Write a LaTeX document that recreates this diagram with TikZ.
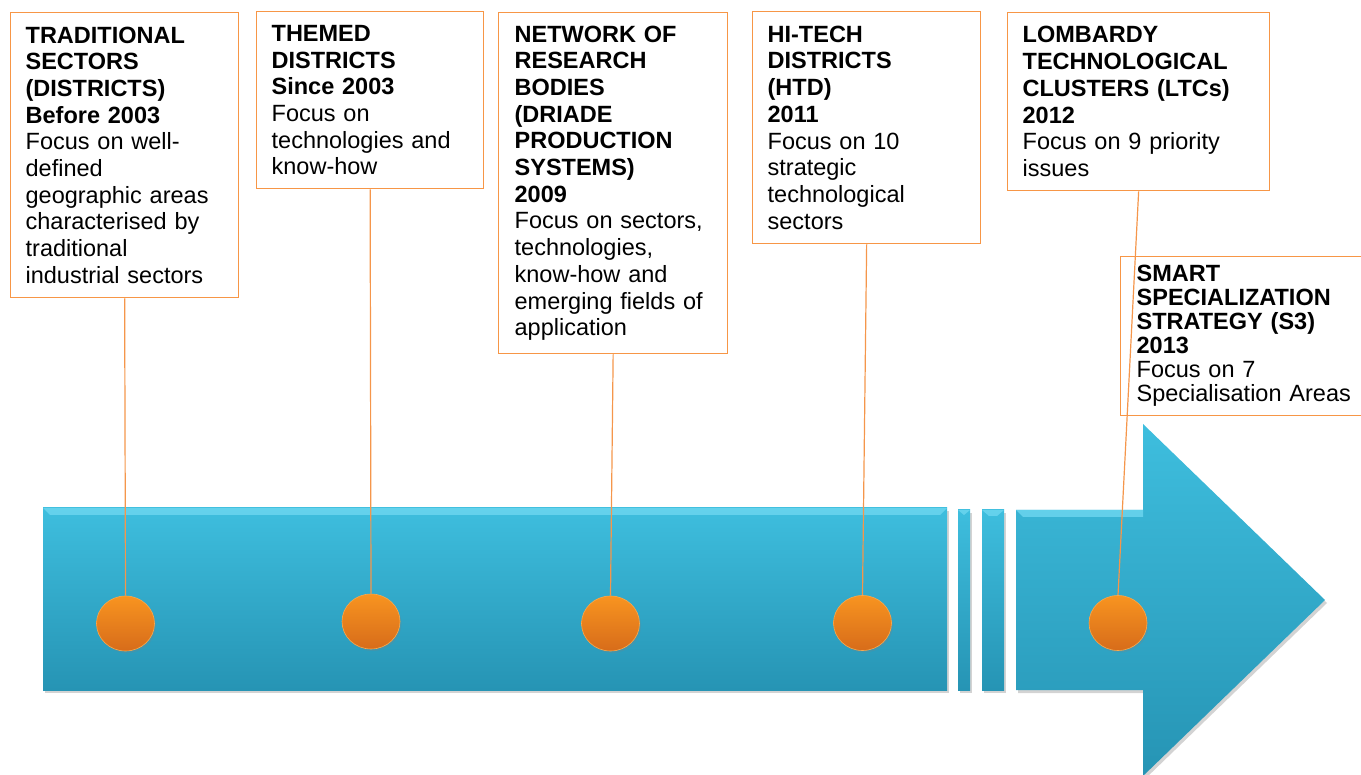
\documentclass[tikz,border=0pt]{standalone}
\usepackage{fontspec}
\setmainfont{Liberation Sans}
\usetikzlibrary{shapes.geometric,shadows}
\definecolor{boxorange}{RGB}{247,150,70}
\definecolor{lineorange}{RGB}{245,150,75}
\definecolor{bluetop}{RGB}{62,190,222}
\definecolor{bluebot}{RGB}{38,148,180}
\definecolor{bluebevel}{RGB}{110,215,240}
\definecolor{dottop}{RGB}{248,148,32}
\definecolor{dotbot}{RGB}{215,108,26}
\tikzset{
  box/.style={draw=boxorange, line width=1.3pt, fill=white, anchor=north west,
    align=left, inner xsep=15pt, inner ysep=0pt,
    font=\fontsize{23.5}{26.7}\selectfont},
  bluebar/.style={top color=bluetop, bottom color=bluebot, draw=none,
    drop shadow={opacity=0.35, shadow xshift=2pt, shadow yshift=-3pt}},
  bevel/.style={fill=bluebevel, draw=none, opacity=0.8},
  dot/.style={ellipse, minimum width=58pt, minimum height=55pt, inner sep=0pt,
    top color=dottop, bottom color=dotbot, draw=dottop!80!white, line width=0.6pt,
    drop shadow={opacity=0.25, shadow xshift=1.5pt, shadow yshift=-2pt}},
  link/.style={draw=lineorange, line width=1.2pt}
}
\begin{document}
\begin{tikzpicture}[x=1pt, y=-1pt]
\useasboundingbox (0,0) rectangle (1361,775);

% boxes
\node[box, text width=198pt, minimum height=285pt] (b1) at (10,12)
 {\bfseries TRADITIONAL\\SECTORS\\(DISTRICTS)\\Before 2003\\\mdseries Focus on well-\\defined\\geographic areas\\characterised by\\traditional\\industrial sectors};
\node[box, text width=197pt, minimum height=177pt] (b2) at (256,11)
 {\bfseries THEMED\\DISTRICTS\\Since 2003\\\mdseries Focus on\\technologies and\\know-how};
\node[box, inner xsep=16pt, text width=197pt, minimum height=341pt] (b3) at (498,12)
 {\bfseries NETWORK OF\\RESEARCH\\BODIES\\(DRIADE\\PRODUCTION\\SYSTEMS)\\2009\\\mdseries Focus on sectors,\\technologies,\\know-how and\\emerging fields of\\application};
\node[box, text width=198pt, minimum height=232pt] (b4) at (752,11)
 {\bfseries HI-TECH\\DISTRICTS\\(HTD)\\2011\\\mdseries Focus on 10\\strategic\\technological\\sectors};
\node[box, text width=232pt, minimum height=178pt] (b5) at (1007,12)
 {\bfseries LOMBARDY\\TECHNOLOGICAL\\CLUSTERS (LTCs)\\2012\\\mdseries Focus on 9 priority\\issues};
\node[box, inner xsep=16pt, text width=228pt, minimum height=159pt,
  font=\fontsize{23.5}{24}\selectfont] (b6) at (1120,256)
 {\bfseries SMART\\SPECIALIZATION\\STRATEGY (S3)\\2013\\\mdseries Focus on 7\\Specialisation Areas};

% timeline arrow
\path[bluebar] (43,508) rectangle (947,690);
\path[bevel] (43,508) -- (947,508) -- (940,515) -- (50,515) -- cycle;
\path[bluebar] (958,510) rectangle (970,690);
\path[bevel] (958,510) -- (970,510) -- (964,515) -- cycle;
\path[bluebar] (982,510) rectangle (1004,690);
\path[bevel] (982,510) -- (1004,510) -- (997,516) -- (989,516) -- cycle;
\path[bluebar] (1016,510) -- (1143,510) -- (1143,424) -- (1325,600)
   -- (1143,776) -- (1143,690) -- (1016,690) -- cycle;
\path[bevel] (1016,510) -- (1143,510) -- (1143,517) -- (1023,517) -- cycle;

% dots
\node[dot] (d1) at (125.5,623.5) {};
\node[dot] (d2) at (371,621.5) {};
\node[dot] (d3) at (610.5,623.5) {};
\node[dot] (d4) at (862.5,623) {};
\node[dot] (d5) at (1118,623) {};

% links
\draw[link] (b1.south) -- (d1.north);
\draw[link] (b2.south) -- (d2.north);
\draw[link] (b3.south) -- (d3.north);
\draw[link] (b4.south) -- (d4.north);
\draw[link] (b5.south) -- (d5.north);
\end{tikzpicture}
\end{document}
